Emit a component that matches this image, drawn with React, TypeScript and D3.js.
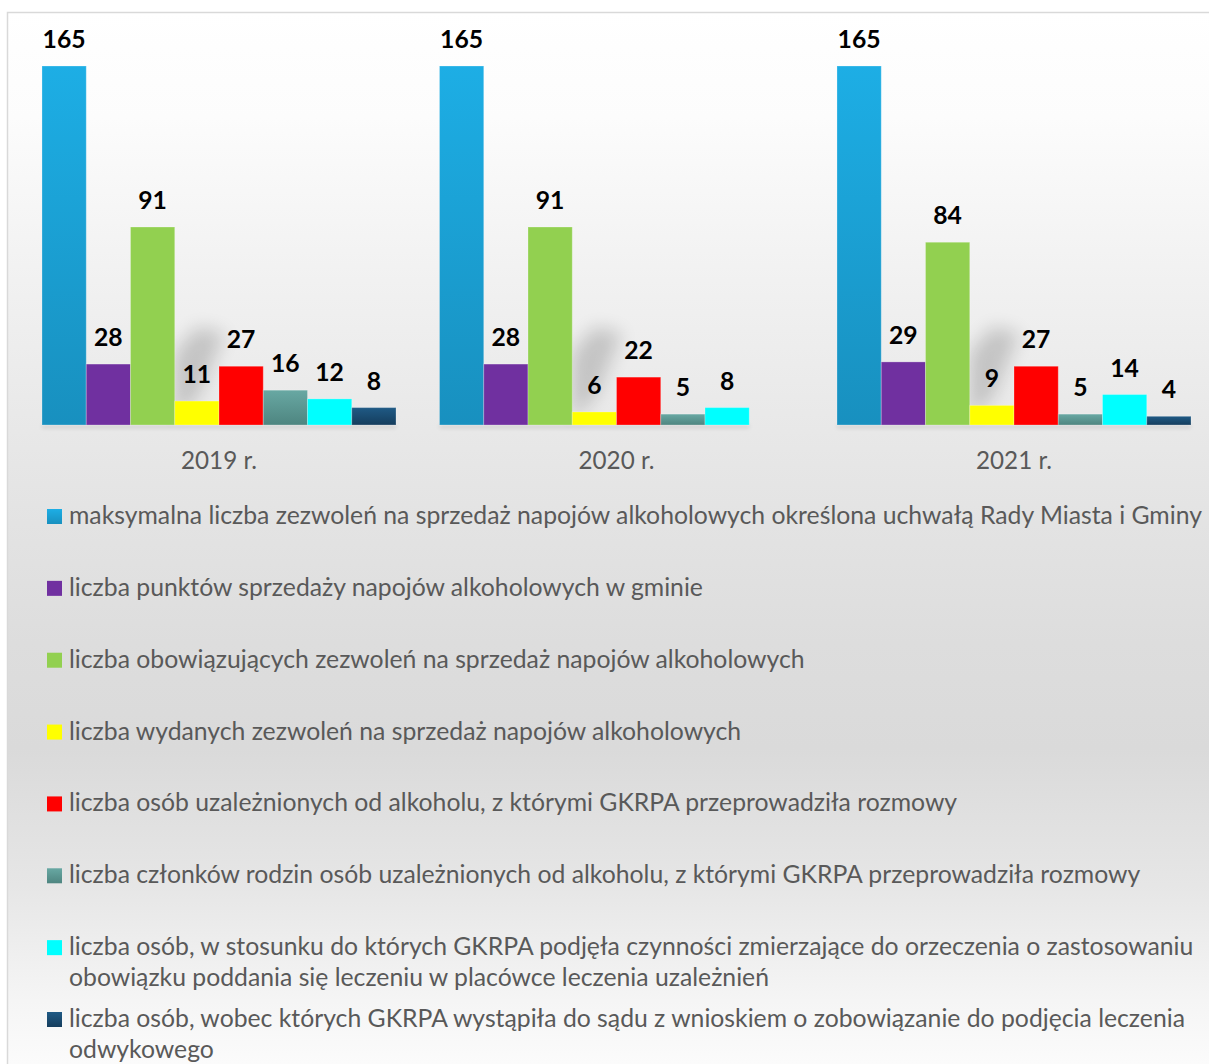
import React, { useMemo } from 'react';
import * as d3 from 'd3';

const years = ['2019 r.', '2020 r.', '2021 r.'];

const maxPermits = [165, 165, 165];
const salesPoints = [28, 28, 29];
const validPermits = [91, 91, 84];
const issuedPermits = [11, 6, 9];
const addictedTalks = [27, 22, 27];
const familyTalks = [16, 5, 5];
const treatmentActions = [12, 8, 14];
const courtRequests: (number | null)[] = [8, null, 4];

const seriesValues: (number | null)[][] = [
  maxPermits, salesPoints, validPermits, issuedPermits,
  addictedTalks, familyTalks, treatmentActions, courtRequests,
];

const seriesLabels: string[][] = [
  ['maksymalna liczba zezwoleń na sprzedaż napojów alkoholowych określona uchwałą Rady Miasta i Gminy'],
  ['liczba punktów sprzedaży napojów alkoholowych w gminie'],
  ['liczba obowiązujących zezwoleń na sprzedaż napojów alkoholowych'],
  ['liczba wydanych zezwoleń na sprzedaż napojów alkoholowych'],
  ['liczba osób uzależnionych od alkoholu, z którymi GKRPA przeprowadziła rozmowy'],
  ['liczba członków rodzin osób uzależnionych od alkoholu, z którymi GKRPA przeprowadziła rozmowy'],
  ['liczba osób, w stosunku do których GKRPA podjęła czynności zmierzające do orzeczenia o zastosowaniu', 'obowiązku poddania się leczeniu w placówce leczenia uzależnień'],
  ['liczba osób, wobec których GKRPA wystąpiła do sądu z wnioskiem o zobowiązanie do podjęcia leczenia', 'odwykowego'],
];

const seriesColors: [string, string][] = [
  ['#1DAEE5', '#1890BF'],
  ['#7030A0', '#7030A0'],
  ['#92D050', '#92D050'],
  ['#FFFF00', '#FFFF00'],
  ['#FF0000', '#FF0000'],
  ['#68A8A3', '#4E8580'],
  ['#00FFFF', '#00FFFF'],
  ['#1F5A85', '#153D5D'],
];

const FAMILY = 'Lato, "Open Sans", sans-serif';

function fitFont(text: string, weight: string, target: number): number {
  const ctx = document.createElement('canvas').getContext('2d');
  if (!ctx) return 20;
  ctx.font = `${weight} 100px Lato`;
  const w = ctx.measureText(text).width;
  return (100 * target) / w;
}

export default function App() {
  const W = 1209;
  const H = 1064;

  const legendSize = useMemo(() => fitFont(seriesLabels[0][0], 'normal', 1134), []);
  const valueSize = useMemo(() => fitFont('165', 'bold', 43), []);
  const yearSize = useMemo(() => fitFont('2019 r.', 'normal', 76), []);

  const x0 = d3.scaleBand<string>().domain(years).range([20.25, 1212.75])
    .paddingInner(0.1094).paddingOuter(0.0547);
  const x1 = d3.scaleBand<number>().domain(d3.range(seriesValues.length)).range([0, x0.bandwidth()]).padding(0);
  const y = d3.scaleLinear().domain([0, 165]).range([425, 66]);
  const bw = x1.bandwidth();
  const base = y(0);

  const legendY = d3.scaleLinear().domain([0, 7]).range([524, 1027]);
  const lineGap = 30.5;

  return (
    <svg width={W} height={H} style={{ position: 'absolute', left: 0, top: 0, display: 'block' }}
      xmlns="http://www.w3.org/2000/svg">
      <defs>
        <linearGradient id="bg" gradientUnits="userSpaceOnUse" x1="0" y1="12" x2="0" y2="1064">
          <stop offset="0" stopColor="#ffffff" />
          <stop offset="0.1" stopColor="#fcfcfc" />
          <stop offset="0.27" stopColor="#f0f0f0" />
          <stop offset="0.43" stopColor="#e6e6e6" />
          <stop offset="0.6" stopColor="#dddddd" />
          <stop offset="0.7" stopColor="#dadada" />
          <stop offset="0.83" stopColor="#e6e6e6" />
          <stop offset="0.94" stopColor="#f5f5f5" />
          <stop offset="1" stopColor="#fbfbfb" />
        </linearGradient>
        {seriesColors.map((c, i) => (
          <linearGradient key={i} id={`g${i}`} x1="0" y1="0" x2="0" y2="1">
            <stop offset="0" stopColor={c[0]} />
            <stop offset="1" stopColor={c[1]} />
          </linearGradient>
        ))}
        <filter id="blur" x="-100%" y="-100%" width="300%" height="300%">
          <feGaussianBlur stdDeviation="9" />
        </filter>
        <filter id="blur2" x="-10%" y="-200%" width="120%" height="500%">
          <feGaussianBlur stdDeviation="2" />
        </filter>
      </defs>

      <rect x={0} y={0} width={W} height={H} fill="#ffffff" />
      <rect x={7.5} y={12.5} width={W + 20} height={H + 20} fill="url(#bg)" stroke="#d9d9d9" strokeWidth={1.5} />

      {years.map((yr, gi) => {
        const gx = (x0(yr) as number);
        const gRight = gx + (x1(2) as number) + bw;
        const nBars = seriesValues.filter((v) => v[gi] !== null).length;
        const pts: [number, number][] = [
          [gRight, base - 5], [gRight, base - 72], [gRight + 22, base - 98],
          [gRight + 50, base - 92], [gRight + 24, base - 30],
        ];
        return (
          <g key={`sh${gi}`}>
            <polygon points={pts.map((p) => p.join(',')).join(' ')} fill="#000" opacity={0.17} filter="url(#blur)" />
            <rect x={gx} y={base} width={bw * nBars} height={3} fill="#000" opacity={0.12} filter="url(#blur2)" />
          </g>
        );
      })}

      {years.map((yr, gi) => (
        <g key={yr} transform={`translate(${x0(yr)},0)`}>
          {seriesValues.map((vals, si) => {
            const v = vals[gi];
            if (v === null || v === undefined) return null;
            const bx = x1(si) as number;
            return (
              <g key={si}>
                <rect x={bx} y={y(v)} width={bw} height={base - y(v)} fill={`url(#g${si})`}
                  stroke="rgba(255,255,255,0.25)" strokeWidth={1} />
                <text x={bx + bw / 2} y={y(v) - 18} textAnchor="middle" fontFamily={FAMILY}
                  fontWeight="bold" fontSize={valueSize} fill="#000">{v}</text>
              </g>
            );
          })}
          <text x={x0.bandwidth() / 2} y={469} textAnchor="middle" fontFamily={FAMILY}
            fontSize={yearSize} fill="#595959">{yr}</text>
        </g>
      ))}

      {seriesLabels.map((lines, i) => {
        const by = legendY(i);
        return (
          <g key={`lg${i}`}>
            <rect x={47} y={by - 15} width={15} height={15} fill={`url(#g${i})`} />
            {lines.map((ln, li) => (
              <text key={li} x={69} y={by + li * lineGap} fontFamily={FAMILY} fontSize={legendSize}
                fill="#595959">{ln}</text>
            ))}
          </g>
        );
      })}
    </svg>
  );
}
